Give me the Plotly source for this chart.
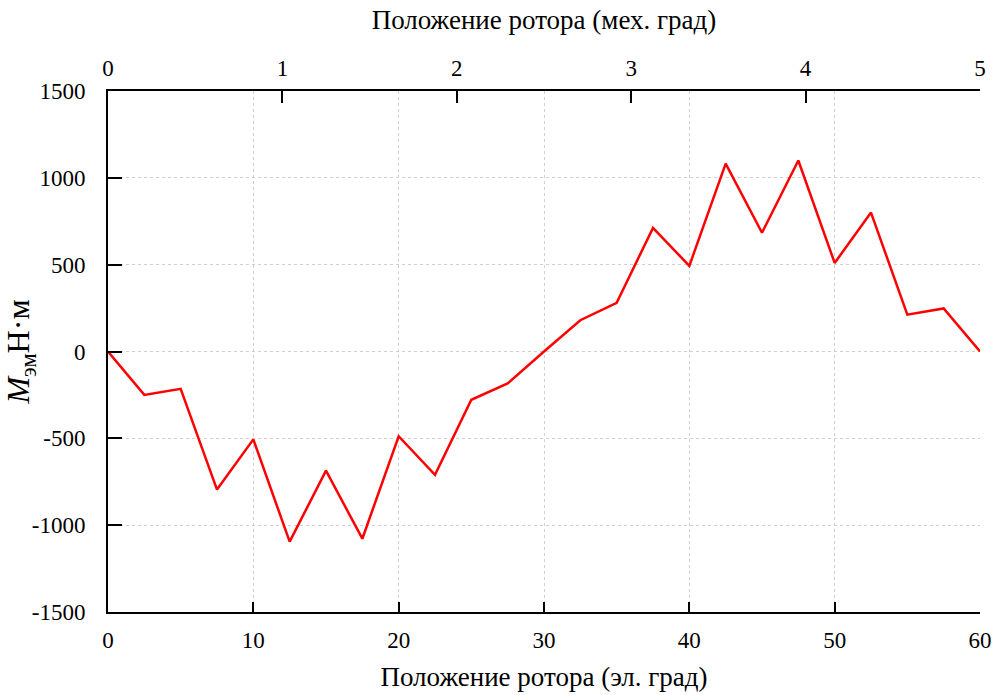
import plotly.graph_objects as go

el_deg = [0, 2.5, 5, 7.5, 10, 12.5, 15, 17.5, 20, 22.5, 25, 27.5, 30,
          32.5, 35, 37.5, 40, 42.5, 45, 47.5, 50, 52.5, 55, 57.5, 60]
torque = [0, -250, -215, -795, -506, -1095, -686, -1078, -488, -710, -278, -184, 0,
          180, 280, 712, 493, 1082, 684, 1100, 510, 800, 212, 248, 0]

y_ticks = [-1500, -1000, -500, 0, 500, 1000, 1500]
y_tick_labels = ["-1500", "-1000", "-500", "0", "500", "1000", "1500"]
x_ticks = [0, 10, 20, 30, 40, 50, 60]
mech_ticks = [0, 1, 2, 3, 4, 5]

font_family = "Liberation Serif"
tick_font = dict(family=font_family, size=23, color="black")
title_font = dict(family=font_family, size=27, color="black")

fig = go.Figure()
fig.add_trace(go.Scatter(x=el_deg, y=torque, mode="lines",
                         line=dict(color="#ff0000", width=2.5), showlegend=False))
# invisible trace for top axis
fig.add_trace(go.Scatter(x=[mech_ticks[0], mech_ticks[-1]], y=[0, 0], xaxis="x2",
                         mode="lines", line=dict(width=0), hoverinfo="skip", showlegend=False))

fig.update_layout(
    width=996, height=695,
    margin=dict(l=108, r=16, t=91, b=83),
    paper_bgcolor="white", plot_bgcolor="white",
    font=dict(family=font_family, size=23, color="black"),
    xaxis=dict(range=[0, 60], tickvals=x_ticks, ticks="inside", ticklen=10, tickwidth=1.5,
               tickcolor="black", showline=True, linecolor="black", linewidth=2,
               showgrid=True, gridcolor="#d0d0d0", griddash="dot", gridwidth=1,
               zeroline=False, ticklabelstandoff=6, tickfont=tick_font, automargin=False,
               title=dict(text="Положение ротора (эл. град)", font=title_font, standoff=16)),
    xaxis2=dict(range=[0, 5], tickvals=mech_ticks, overlaying="x", side="top", anchor="y",
                ticks="inside", ticklen=12, tickwidth=1.5, tickcolor="black",
                showline=True, linecolor="black", linewidth=2, showgrid=False, zeroline=False,
                ticklabelstandoff=4, tickfont=tick_font, automargin=False,
                title=dict(text="Положение ротора (мех. град)", font=title_font, standoff=18)),
    yaxis=dict(range=[-1500, 1500], tickvals=y_ticks, ticktext=y_tick_labels,
               ticks="inside", ticklen=14, tickwidth=1.5,
               tickcolor="black", showline=True, linecolor="black", linewidth=2,
               showgrid=True, gridcolor="#d0d0d0", griddash="dot", gridwidth=1,
               zeroline=False, ticklabelstandoff=16, tickfont=tick_font, automargin=False,
               title=dict(text="<i>M</i><sub>эм</sub>Н·м", font=dict(family=font_family, size=32),
                          standoff=0)),
)

fig.write_html("out.html")
